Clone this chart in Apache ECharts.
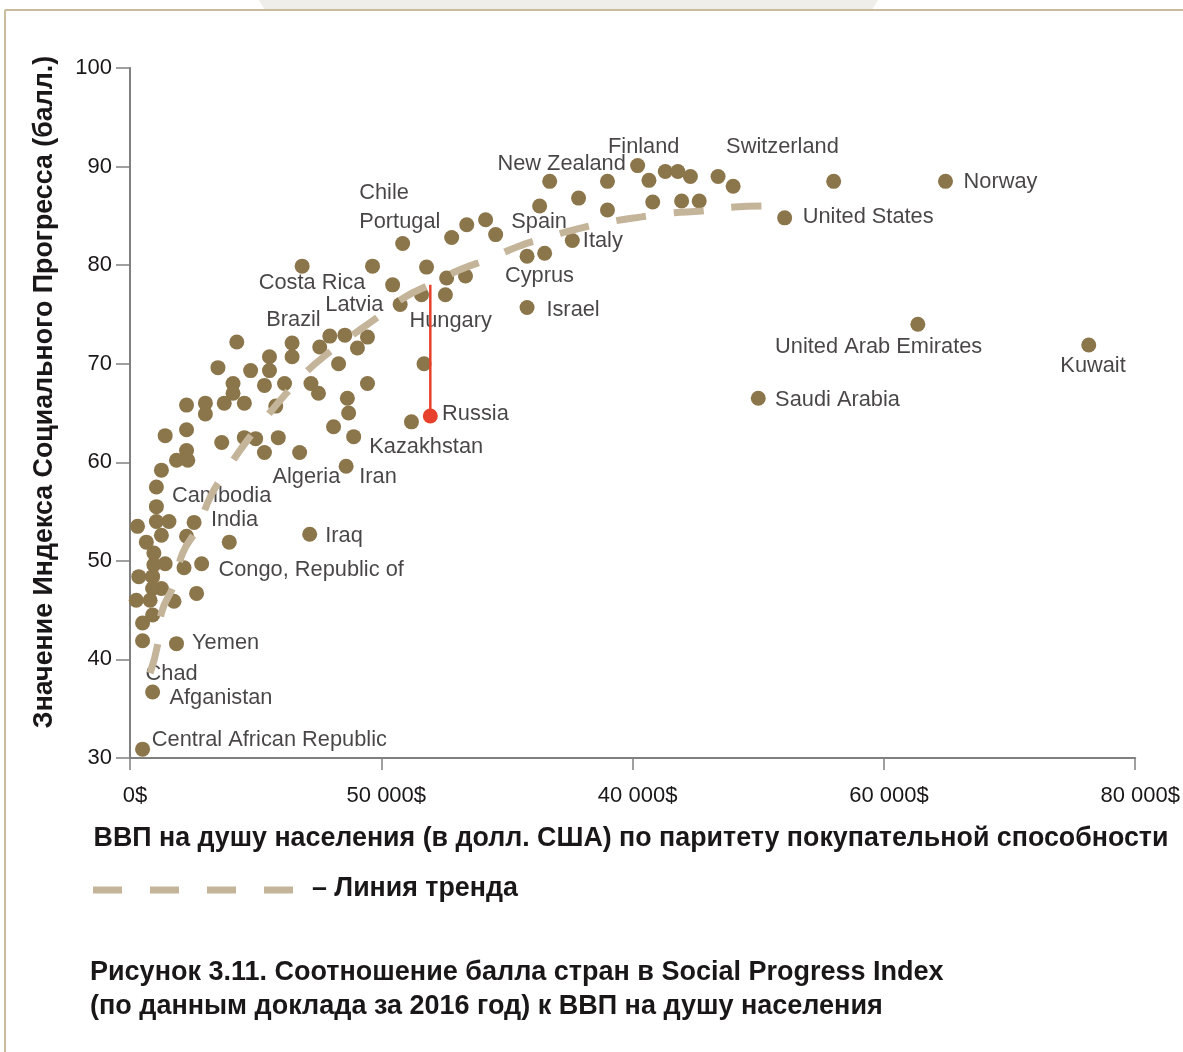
<!DOCTYPE html>
<html>
<head>
<meta charset="utf-8">
<script src="https://cdn.jsdelivr.net/npm/echarts@6/dist/echarts.min.js"></script>
<style>
  html, body { margin: 0; padding: 0; background: #fff; }
  #main { width: 1183px; height: 1052px; }
</style>
</head>
<body>
<div id="main"></div>
<script>
// ВВП на душу (долл.) и балл SPI — точки
var countries = [
  [64900, 88.5], [56000, 88.5], [52100, 84.8], [62700, 74.0], [76300, 71.9], [50000, 66.5],
  [46800, 89.0], [48000, 88.0], [40400, 90.1], [41300, 88.6], [42600, 89.5], [43600, 89.5],
  [44600, 89.0], [41600, 86.4], [43900, 86.5], [45300, 86.5], [33400, 88.5], [38000, 88.5],
  [32600, 86.0], [35700, 86.8], [38000, 85.6], [28300, 84.6], [29100, 83.1], [31600, 80.9],
  [33000, 81.2], [35200, 82.5], [31600, 75.7], [26800, 84.1], [25600, 82.8], [21700, 82.2],
  [13700, 79.9], [19300, 79.9], [23600, 79.8], [25200, 78.7], [26700, 78.9], [20900, 78.0],
  [23200, 77.0], [25100, 77.0], [21500, 76.0], [23400, 70.0], [22400, 64.1],
  [8500, 72.2], [12900, 72.1], [12900, 70.7], [11100, 70.7], [11100, 69.3], [9600, 69.3],
  [7000, 69.6], [15900, 72.8], [17100, 72.9], [15100, 71.7], [18900, 72.7], [18100, 71.6],
  [16600, 70.0], [8200, 68.0], [8200, 67.0], [10700, 67.8], [12300, 68.0], [14400, 68.0],
  [15000, 67.0], [18900, 68.0], [17300, 66.5], [17400, 65.0], [16200, 63.6], [17800, 62.6],
  [6000, 66.0], [6000, 64.9], [4500, 65.8], [7500, 66.0], [9100, 66.0], [11600, 65.7],
  [2800, 62.7], [4500, 63.3], [4500, 61.2], [3700, 60.2], [4600, 60.2], [7300, 62.0],
  [9100, 62.5], [10000, 62.4], [11800, 62.5], [10700, 61.0], [13500, 61.0], [17200, 59.6],
  [2500, 59.2], [2100, 57.5], [2100, 55.5], [2100, 54.0], [3100, 54.0], [5100, 53.9],
  [600, 53.5], [1300, 51.9], [2500, 52.6], [4500, 52.5], [7900, 51.9], [1900, 50.8],
  [1900, 49.6], [2800, 49.7], [700, 48.4], [1800, 48.4], [2500, 47.2], [1800, 47.2],
  [4300, 49.3], [5700, 49.7], [500, 46.0], [1600, 46.0], [3500, 45.9], [5300, 46.7],
  [1800, 44.5], [1000, 43.7], [1000, 41.9], [3700, 41.6], [1800, 36.7], [1000, 30.9],
  [14300, 52.7]
];
var russia = [[23900, 64.7]];
// отрезок от России до линии тренда
var russiaGap = [[23900, 64.7], [23900, 78.0]];

// линия тренда, снятая по штрихам
var trendX = [1600, 2200, 2500, 3500, 4200, 5400, 6400, 7600, 9200, 10600, 12300, 13800,
  15900, 17700, 19900, 21800, 24000, 26200, 28700, 30900, 33400, 35700, 38200, 40700,
  43100, 45500, 48100, 50500];
var trendY = [38.6, 41.5, 44.7, 47.6, 50.8, 53.4, 56.5, 59.0, 62.0, 64.2, 66.8, 68.9,
  71.2, 72.9, 74.9, 76.7, 78.1, 79.5, 80.7, 81.9, 82.9, 83.7, 84.4, 84.9,
  85.3, 85.5, 85.9, 86.0];

// подписи стран (левая точка текста)
var labelNames = ['Norway', 'Switzerland', 'Finland', 'New Zealand', 'United States', 'Chile',
  'Portugal', 'Spain', 'Italy', 'Cyprus', 'Israel', 'Costa Rica', 'Latvia', 'Brazil', 'Hungary',
  'United Arab Emirates', 'Kuwait', 'Saudi Arabia', 'Russia', 'Kazakhstan', 'Algeria', 'Iran',
  'Cambodia', 'India', 'Iraq', 'Congo, Republic of', 'Yemen', 'Chad', 'Afganistan',
  'Central African Republic'];
var labelX = [66300, 47400, 38000, 29200, 53500, 18200, 18200, 30300, 36000, 29800, 33100,
  10200, 15500, 10800, 22200, 51300, 74000, 51300, 24800, 19000, 11300, 18200, 3300, 6400,
  15500, 7000, 4900, 1200, 3100, 1700];
var labelY = [88.4, 92.0, 92.0, 90.3, 84.9, 87.3, 84.4, 84.4, 82.4, 78.9, 75.4, 78.2, 76.0,
  74.4, 74.3, 71.7, 69.8, 66.3, 64.9, 61.6, 58.5, 58.5, 56.6, 54.1, 52.5, 49.1, 41.7, 38.5,
  36.1, 31.8];

var xTickLabels = ['0$', '50 000$', '40 000$', '60 000$', '80 000$'];

var FONT = '"Liberation Sans", Arial, Helvetica, sans-serif';
var INK = '#1a1718';
var DOT = '#8b754a';
var TREND = '#c4b49a';

var labelData = labelNames.map(function (n, i) { return [labelX[i], labelY[i], n]; });
var trendData = trendX.map(function (x, i) { return [x, trendY[i]]; });

var myChart = echarts.init(document.getElementById('main'));

myChart.setOption({
    animation: false,
    backgroundColor: '#fff',
    grid: { left: 130, right: 47, top: 68, bottom: 294 },
    xAxis: {
        type: 'value', min: 0, max: 80000, interval: 20000,
        axisLine: { lineStyle: { color: '#808080', width: 2 } },
        axisTick: { length: 12, lineStyle: { color: '#808080', width: 1.5 } },
        axisLabel: {
            margin: 27, fontSize: 22, color: INK, fontFamily: FONT,
            padding: [0, 0, 0, 10],
            formatter: function (v) { return xTickLabels[Math.round(v / 20000)]; }
        },
        splitLine: { show: false }
    },
    yAxis: {
        type: 'value', min: 30, max: 100, interval: 10,
        axisLine: { show: true, lineStyle: { color: '#808080', width: 2 } },
        axisTick: { show: true, length: 14, lineStyle: { color: '#808080', width: 1.5 } },
        axisLabel: { margin: 18, fontSize: 22, color: INK, fontFamily: FONT },
        splitLine: { show: false }
    },
    series: [
        {
            type: 'scatter', z: 1, data: labelData, symbolSize: 1,
            itemStyle: { color: 'rgba(0,0,0,0)' },
            label: {
                show: true, position: 'right', distance: 0,
                fontSize: 21.8, color: INK, fontFamily: FONT,
                formatter: function (p) { return p.value[2]; }
            },
            silent: true
        },
        {
            type: 'scatter', z: 2, data: countries, symbolSize: 15,
            itemStyle: { color: DOT, opacity: 1 }
        },
        {
            type: 'line', z: 3, data: trendData, smooth: true, symbol: 'none',
            lineStyle: { color: TREND, width: 7, type: [30, 28], cap: 'butt' }
        },
        {
            type: 'line', z: 4, data: russiaGap, symbol: 'none',
            lineStyle: { color: '#e8412b', width: 2.5 }
        },
        {
            type: 'scatter', z: 5, data: russia, symbolSize: 15,
            itemStyle: { color: '#e8412b', opacity: 1 }
        }
    ],
    graphic: [
        // рамка страницы
        { type: 'polygon', silent: true, z: -10,
          shape: { points: [[259, 0], [878, 0], [872, 10], [265, 10]] },
          style: { fill: '#efeeea' } },
        { type: 'line', silent: true, shape: { x1: 5, y1: 10, x2: 1183, y2: 10 },
          style: { stroke: '#c9bb9c', lineWidth: 2 } },
        { type: 'line', silent: true, shape: { x1: 5, y1: 10, x2: 5, y2: 1052 },
          style: { stroke: '#c9bb9c', lineWidth: 2 } },
        // название оси Y
        { type: 'text', x: 45, y: 392, rotation: Math.PI / 2,
          style: { text: 'Значение Индекса Социального Прогресса (балл.)',
                   font: 'bold 26.8px ' + FONT, fill: INK,
                   textAlign: 'center', textVerticalAlign: 'middle' } },
        // название оси X
        { type: 'text', x: 631, y: 839,
          style: { text: 'ВВП на душу населения (в долл. США) по паритету покупательной способности',
                   font: 'bold 26.8px ' + FONT, fill: INK,
                   textAlign: 'center', textVerticalAlign: 'middle' } },
        // легенда
        { type: 'line', shape: { x1: 93, y1: 890, x2: 296, y2: 890 },
          style: { stroke: TREND, lineWidth: 7, lineDash: [29, 28] } },
        { type: 'text', x: 312, y: 889,
          style: { text: '– Линия тренда', font: 'bold 26.8px ' + FONT, fill: INK,
                   textAlign: 'left', textVerticalAlign: 'middle' } },
        // подпись рисунка
        { type: 'text', x: 90, y: 973,
          style: { text: 'Рисунок 3.11. Соотношение балла стран в Social Progress Index',
                   font: 'bold 27px ' + FONT, fill: INK,
                   textAlign: 'left', textVerticalAlign: 'middle' } },
        { type: 'text', x: 90, y: 1007,
          style: { text: '(по данным доклада за 2016 год) к ВВП на душу населения',
                   font: 'bold 27px ' + FONT, fill: INK,
                   textAlign: 'left', textVerticalAlign: 'middle' } }
    ]
});
</script>
</body>
</html>
